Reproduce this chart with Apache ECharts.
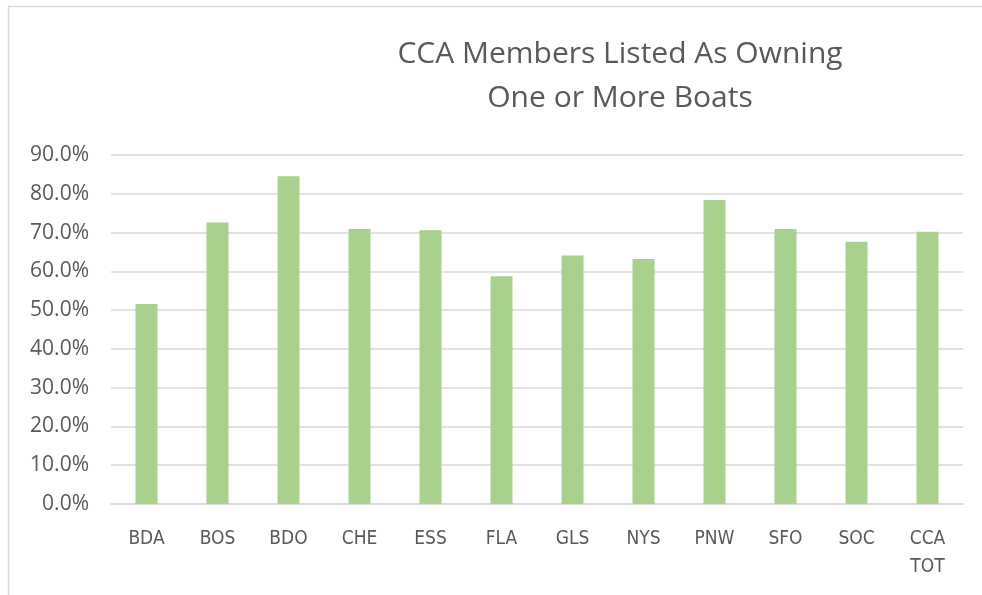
<!DOCTYPE html>
<html>
<head>
<meta charset="utf-8">
<script src="https://cdn.jsdelivr.net/npm/echarts@6/dist/echarts.min.js"></script>
<style>
  html, body { margin: 0; padding: 0; background: #fff; }
  #chart { width: 982px; height: 595px; }
</style>
</head>
<body>
<div id="chart"></div>
<script>
  // chart data
  var regions = ['BDA', 'BOS', 'BDO', 'CHE', 'ESS', 'FLA', 'GLS', 'NYS', 'PNW', 'SFO', 'SOC', 'CCA\nTOT'];
  var ownPct = [51.6, 72.6, 84.5, 70.9, 70.6, 58.7, 64.1, 63.2, 78.4, 70.9, 67.6, 70.2];
  var yTicks = [0, 10, 20, 30, 40, 50, 60, 70, 80, 90];

  var myChart = echarts.init(document.getElementById('chart'));

  var option = {
    animation: false,
    backgroundColor: '#fff',
    title: {
      text: 'CCA Members Listed As Owning\nOne or More Boats',
      left: 615,
      textAlign: 'center',
      top: 27,
      textStyle: {
        color: '#595959',
        fontFamily: 'Open Sans',
        fontWeight: 'normal',
        fontSize: 30,
        lineHeight: 44
      }
    },
    graphic: [{
      type: 'rect',
      shape: { x: 8.5, y: 6.5, width: 1000, height: 1000 },
      style: { fill: 'none', stroke: '#d9d9d9', lineWidth: 1.5 },
      silent: true
    }],
    grid: {
      left: 111,
      right: 19,
      top: 155,
      bottom: 91
    },
    xAxis: {
      type: 'category',
      data: regions,
      axisLine: { lineStyle: { color: '#d9d9d9', width: 1.5 } },
      axisTick: { show: false },
      axisLabel: {
        color: '#595959',
        fontFamily: 'Liberation Sans Narrow, DejaVu Sans Condensed, sans-serif',
        fontSize: 19,
        lineHeight: 28,
        margin: 21
      }
    },
    yAxis: {
      type: 'value',
      min: yTicks[0],
      max: yTicks[yTicks.length - 1],
      interval: 10,
      axisLine: { show: false },
      axisTick: { show: false },
      splitLine: { lineStyle: { color: '#d9d9d9', width: 1.5 } },
      axisLabel: {
        color: '#595959',
        fontFamily: 'Open Sans',
        fontSize: 21,
        margin: 22,
        formatter: function (v) { return v.toFixed(1) + '%'; }
      }
    },
    series: [{
      type: 'bar',
      data: ownPct,
      barWidth: '31%',
      itemStyle: { color: '#a9d18e' }
    }]
  };

  myChart.setOption(option);
</script>
</body>
</html>
